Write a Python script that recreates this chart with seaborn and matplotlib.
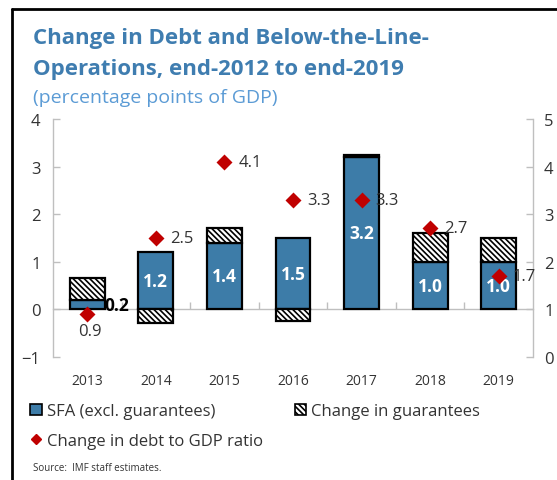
import numpy as np
import pandas as pd
import matplotlib
matplotlib.use("Agg")
import matplotlib.pyplot as plt
from matplotlib.patches import Patch
from matplotlib.lines import Line2D
import seaborn as sns

# Data (percentage points of GDP)
years = ["2013", "2014", "2015", "2016", "2017", "2018", "2019"]
sfa = [0.2, 1.2, 1.4, 1.5, 3.2, 1.0, 1.0]
guarantees = [0.45, -0.28, 0.32, -0.25, 0.05, 0.6, 0.5]
debt_change = [0.9, 2.5, 4.1, 3.3, 3.3, 2.7, 1.7]

BLUE = "#3D7CA8"
RED = "#C00000"
GRAY = "#BFBFBF"
TXT = "#333333"
TITLE_BLUE = "#3F7DB0"
SUB_BLUE = "#5B9BD5"
HATCH = "\\" * 6

sns.set_theme(style="white")
plt.rcParams["font.family"] = ["Open Sans", "DejaVu Sans"]
plt.rcParams["hatch.linewidth"] = 1.2

W, H = 557, 481
fig = plt.figure(figsize=(W / 100, H / 100), dpi=100)
ax = fig.add_axes([53 / W, 1 - 358 / H, (533 - 53) / W, (358 - 120) / H])

df = pd.DataFrame({"year": years, "sfa": sfa, "guar": guarantees})
# guarantees stack on top of positive SFA, hang below zero when negative
df["guar_base"] = np.where(df["guar"] > 0, df["sfa"], 0.0)

sns.barplot(data=df, x="year", y="sfa", color=BLUE, saturation=1,
            width=0.51, edgecolor="black", linewidth=1.6, ax=ax, zorder=3)
sns.barplot(data=df, x="year", y="guar", bottom=df["guar_base"].values,
            color="white", saturation=1, width=0.51, edgecolor="black",
            linewidth=1.6, hatch=HATCH, ax=ax, zorder=3)

# SFA value labels
sfa_container = ax.containers[0]
inner = ["" if v < 0.5 else f"{v:.1f}" for v in sfa]
ax.bar_label(sfa_container, labels=inner, label_type="center",
             color="white", fontweight="bold", fontsize=12.5)
for i, v in enumerate(sfa):
    if v < 0.5:
        ax.text(i + 0.25, v / 2, f"{v:.1f}", ha="left", va="center",
                color="black", fontweight="bold", fontsize=12.5, zorder=5)

ax.set_ylim(-1, 4)
ax.set_xlim(-0.5, len(years) - 0.5)
ax.set_yticks(range(-1, 5))
ax.set_ylabel("")
ax.set_xlabel("")

# Axis styling: zero line as category axis
for s in ["top", "right"]:
    ax.spines[s].set_visible(False)
ax.spines["left"].set_color(GRAY)
ax.spines["left"].set_linewidth(1.0)
ax.spines["bottom"].set_position(("data", 0))
ax.spines["bottom"].set_color(GRAY)
ax.spines["bottom"].set_linewidth(1.0)
ax.spines["bottom"].set_zorder(2)
ax.tick_params(axis="y", direction="in", length=5, color=GRAY, width=1,
               labelsize=12, labelcolor=TXT, pad=9, left=True)
ax.tick_params(axis="x", which="major", length=0, labelsize=10,
               labelcolor=TXT, pad=46)
ax.set_xticks(np.arange(len(years) - 1) + 0.5, minor=True)
ax.tick_params(axis="x", which="minor", direction="in", length=5,
               color=GRAY, width=1, bottom=True)

# Debt-to-GDP change on the secondary axis
ax2 = ax.twinx()
sns.pointplot(x=years, y=debt_change, linestyle="none", marker="D",
              markersize=6, color=RED, ax=ax2, zorder=6)
ax2.set_ylim(0, 5)
ax2.set_xlim(-0.5, len(years) - 0.5)
ax2.set_yticks(range(0, 6))
for s in ["top", "left", "bottom"]:
    ax2.spines[s].set_visible(False)
ax2.spines["right"].set_color(GRAY)
ax2.spines["right"].set_linewidth(1.0)
ax2.tick_params(axis="y", direction="in", length=5, color=GRAY, width=1,
                labelsize=12, labelcolor=TXT, pad=8, right=True)
ax2.grid(False)
ax.grid(False)

for i, v in enumerate(debt_change):
    if i == 0:
        ax2.annotate(f"{v:.1f}", (i, v), xytext=(2, -12), textcoords="offset points",
                     ha="center", va="center", fontsize=12, color=TXT, zorder=7)
    else:
        ax2.annotate(f"{v:.1f}", (i, v), xytext=(10, 0), textcoords="offset points",
                     ha="left", va="center", fontsize=12, color=TXT, zorder=7)

# Titles
fig.text(33 / W, 1 - 44 / H, "Change in Debt and Below-the-Line-",
         fontsize=16, fontweight="bold", color=TITLE_BLUE, va="baseline")
fig.text(33 / W, 1 - 75 / H, "Operations, end-2012 to end-2019",
         fontsize=16, fontweight="bold", color=TITLE_BLUE, va="baseline")
fig.text(33 / W, 1 - 103 / H, "(percentage points of GDP)",
         fontsize=14, color=SUB_BLUE, va="baseline")

# Legend
handles = [
    Patch(facecolor=BLUE, edgecolor="black", linewidth=1.2),
    Line2D([], [], marker="D", linestyle="none", color=RED, markersize=5),
    Patch(facecolor="white", edgecolor="black", linewidth=1.2, hatch=HATCH),
]
labels = ["SFA (excl. guarantees)", "Change in debt to GDP ratio",
          "Change in guarantees"]
fig.legend(handles, labels, loc="upper left", bbox_to_anchor=(22 / W, 1 - 396 / H),
           ncol=2, frameon=False, fontsize=12, handlelength=0.7,
           handleheight=0.7, handletextpad=0.3, columnspacing=1.9,
           labelspacing=0.8, borderpad=0, labelcolor=TXT)

fig.text(33 / W, 1 - 471 / H, "Source:  IMF staff estimates.",
         fontsize=7, color=TXT, va="baseline")

# Frame around the panel
fig.add_artist(Line2D([12 / W, 12 / W], [0, 1 - 10 / H], transform=fig.transFigure,
                      color="black", linewidth=2))
fig.add_artist(Line2D([12 / W, 1], [1 - 10 / H, 1 - 10 / H], transform=fig.transFigure,
                      color="black", linewidth=2))

fig.savefig("out.png", dpi=100)
